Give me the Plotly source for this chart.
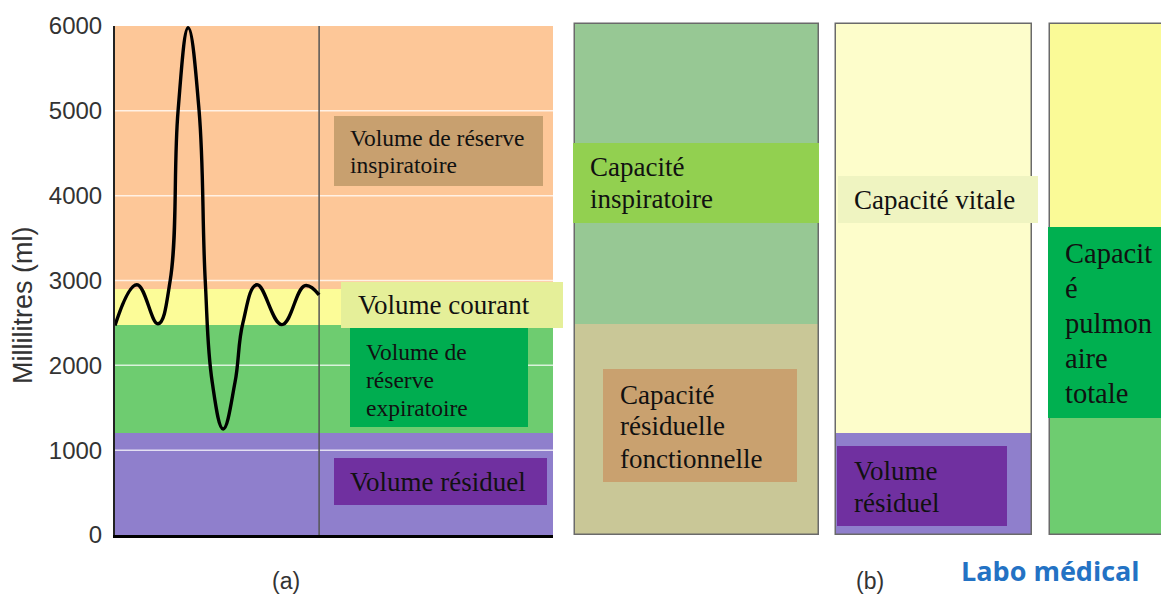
import plotly.graph_objects as go

W, H = 1161, 597

# volumes pulmonaires (ml), du bas vers le haut
volumes = ["Volume résiduel", "Volume de réserve expiratoire", "Volume courant", "Volume de réserve inspiratoire"]
volumes_ml = [1200, 1275, 425, 3100]
couleurs_volumes = ["#8f7fcc", "#6ecc70", "#fcfc98", "#fdc798"]

# spirogramme : temps (unités arbitraires) et volume (ml)
temps = [0, 5.0, 9.8, 12.6, 14.4, 16.7, 19.2, 20.6, 22.2, 24.7, 27.4, 29.2, 32.4, 38.1, 43.4, 46.6]
volume_poumon = [2470, 2950, 2490, 3000, 5000, 5980, 5000, 3000, 1800, 1250, 1800, 2500, 2950, 2480, 2940, 2830]
fin_trace = 46.6

graduations = [0, 1000, 2000, 3000, 4000, 5000, 6000]

# capacités (colonnes de droite) : partie basse / partie haute (ml)
colonnes = ["CRF + CI", "VR + CV", "CPT"]
bas_ml = [2475, 1200, 2900]
haut_ml = [3525, 4800, 3100]
couleurs_bas = ["#c9c797", "#8f7fcc", "#6ecc70"]
couleurs_haut = ["#97c894", "#fdfdcb", "#fafa97"]

etiquettes = [
    ["Volume de réserve", "inspiratoire"],
    ["Volume courant"],
    ["Volume de", "réserve", "expiratoire"],
    ["Volume résiduel"],
    ["Capacité", "inspiratoire"],
    ["Capacité", "résiduelle", "fonctionnelle"],
    ["Capacité vitale"],
    ["Volume", "résiduel"],
    ["Capacit", "é", "pulmon", "aire", "totale"],
]


def px(x):
    return x / W


def py(y):
    return 1 - y / H


fig = go.Figure()

# bandes des volumes (panneau a)
base = 0
for nom, v, c in zip(volumes, volumes_ml, couleurs_volumes):
    fig.add_trace(go.Bar(x=[50], y=[v], base=[base], width=[100], name=nom,
                         marker=dict(color=c, line=dict(width=0)),
                         xaxis="x", yaxis="y", showlegend=False))
    base += v

# lignes de grille blanches au-dessus des bandes
gx, gy = [], []
for g in graduations[1:-1]:
    gx += [0, 100, None]
    gy += [g, g, None]
fig.add_trace(go.Scatter(x=gx, y=gy, mode="lines", hoverinfo="skip",
                         line=dict(color="rgba(255,255,255,0.75)", width=1.5),
                         xaxis="x", yaxis="y", showlegend=False))

# trait vertical de fin de tracé
fig.add_trace(go.Scatter(x=[fin_trace, fin_trace], y=[graduations[0], graduations[-1]],
                         mode="lines", line=dict(color="#555555", width=1.5),
                         xaxis="x", yaxis="y", showlegend=False))

# spirogramme
fig.add_trace(go.Scatter(x=temps, y=volume_poumon, mode="lines",
                         line=dict(color="black", width=3.4, shape="spline", smoothing=1.2),
                         xaxis="x", yaxis="y", showlegend=False))

# colonnes de droite (panneau b)
pos_x = [122, 359, 540]
larg = [244, 196, 130]
fig.add_trace(go.Bar(x=pos_x, y=bas_ml, base=[0, 0, 0], width=larg,
                     marker=dict(color=couleurs_bas, line=dict(width=0)),
                     xaxis="x2", yaxis="y2", showlegend=False))
fig.add_trace(go.Bar(x=pos_x, y=haut_ml, base=bas_ml, width=larg,
                     marker=dict(color=couleurs_haut, line=dict(width=0)),
                     xaxis="x2", yaxis="y2", showlegend=False))
totaux = [b + h for b, h in zip(bas_ml, haut_ml)]
fig.add_trace(go.Bar(x=pos_x, y=totaux, base=[0, 0, 0], width=larg,
                     marker=dict(color="rgba(0,0,0,0)", line=dict(color="#6a6a6a", width=1.5)),
                     xaxis="x2", yaxis="y2", showlegend=False))

# cadres des étiquettes : (x0, y0, x1, y1, fond, taille, x texte, y des lignes)
cadres = [
    (334, 116, 543, 186, "#c8a06f", 23.5, 348, [138, 165]),
    (341, 282, 563, 328, "#e5ef99", 27, 356, [305]),
    (350, 328, 528, 427, "#00ad50", 23.5, 364, [352, 380, 408]),
    (334, 458, 547, 505, "#7030a0", 27, 348, [482]),
    (573, 143, 819, 223, "#92d050", 27, 588, [167, 199]),
    (603, 369, 797, 482, "#c9a16f", 27, 618, [395, 426, 459]),
    (838, 176, 1038, 223, "#eff4c1", 27, 852, [200]),
    (837, 446, 1007, 526, "#7030a0", 27, 852, [471, 503]),
    (1048, 227, 1161, 418, "#00b050", 28.5, 1063, [253, 288, 323, 358, 393]),
]

shapes = []
annotations = []
for lignes, (x0, y0, x1, y1, fond, taille, tx, tys) in zip(etiquettes, cadres):
    shapes.append(dict(type="rect", xref="paper", yref="paper",
                       x0=px(x0), x1=px(x1), y0=py(y1), y1=py(y0),
                       fillcolor=fond, line=dict(width=0), layer="above"))
    for txt, ty in zip(lignes, tys):
        annotations.append(dict(text=txt, xref="paper", yref="paper", x=px(tx), y=py(ty),
                                xanchor="left", yanchor="middle", align="left", showarrow=False,
                                font=dict(family="Liberation Serif, Times New Roman, serif",
                                          size=taille, color="#111111")))

annotations.append(dict(text="Millilitres (ml)", xref="paper", yref="paper",
                        x=px(23), y=py(306), textangle=-90, showarrow=False,
                        xanchor="center", yanchor="middle",
                        font=dict(family="Liberation Sans, Arial, sans-serif", size=27, color="#333333")))
annotations.append(dict(text="(a)", xref="paper", yref="paper", x=px(286), y=py(581),
                        showarrow=False, xanchor="center", yanchor="middle",
                        font=dict(family="Liberation Sans, Arial, sans-serif", size=23, color="#333333")))
annotations.append(dict(text="(b)", xref="paper", yref="paper", x=px(870), y=py(581),
                        showarrow=False, xanchor="center", yanchor="middle",
                        font=dict(family="Liberation Sans, Arial, sans-serif", size=23, color="#333333")))
annotations.append(dict(text="<b>Labo médical</b>", xref="paper", yref="paper", x=px(1050), y=py(570),
                        showarrow=False, xanchor="center", yanchor="middle",
                        font=dict(family="Open Sans, sans-serif", size=27, color="#2372c4")))

fig.update_layout(
    width=W, height=H, autosize=False,
    margin=dict(l=0, r=0, t=0, b=0, pad=0, autoexpand=False),
    paper_bgcolor="white", plot_bgcolor="white",
    barmode="overlay", bargap=0,
    xaxis=dict(domain=[px(115), px(553)], range=[0, 100], showgrid=False, zeroline=False,
               showticklabels=False, ticks="", showline=True, linecolor="black", linewidth=3,
               automargin=False),
    yaxis=dict(domain=[py(535), py(26)], range=[0, 6000], tickvals=graduations,
               showgrid=False, zeroline=False, ticks="", ticklabelstandoff=6,
               showline=True, linecolor="#222222", linewidth=2, automargin=False,
               tickfont=dict(family="Liberation Sans, Arial, sans-serif", size=24, color="#333333")),
    xaxis2=dict(domain=[px(572), 1], range=[-3, 586], visible=False, anchor="y2"),
    yaxis2=dict(domain=[py(537), py(22)], range=[-24, 6024], visible=False, anchor="x2"),
    shapes=shapes,
    annotations=annotations,
    hovermode=False,
)

fig.write_html("out.html", config={"displayModeBar": False},
               post_script="document.body.style.margin='0px';")
